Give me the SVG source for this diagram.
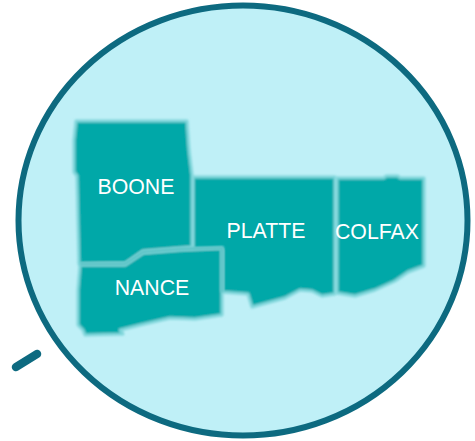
<svg xmlns="http://www.w3.org/2000/svg" width="475" height="441" viewBox="0 0 475 441">
<defs><filter id="soft" x="-5%" y="-5%" width="110%" height="110%"><feGaussianBlur stdDeviation="0.8"/></filter></defs>
<style>
.c{fill:#00a8a8;stroke:#7fd5da;stroke-width:3;stroke-linejoin:round;filter:url(#soft)}
.b{fill:none;stroke:#5fc5c7;stroke-width:3.500;filter:url(#soft)}
text{font-family:"Liberation Sans",Arial,sans-serif;font-size:21.300px;fill:#fff;text-anchor:middle}
</style>
<rect width="475" height="441" fill="#fff"/>
<ellipse id="circle" cx="243" cy="220.500" rx="224.500" ry="215" fill="#bff0f7" stroke="#0d6a80" stroke-width="6"/>
<g id="connectors"><line x1="16" y1="367" x2="37" y2="354" stroke="#0d6a80" stroke-width="8.500" stroke-linecap="round"/></g>
<g id="platte"><path class="c" d="M193 177H335V294L322 296L312 291L300 290L285 298L252 307L248 294L222 292V250H193Z"/><text x="266" y="238">PLATTE</text></g>
<g id="colfax"><path class="c" d="M337 178H384L386 176H398L400 178H424V266L408 272L395 281L375 290L355 296L337 293Z"/><path class="b" d="M336 178V293"/><text x="377" y="239">COLFAX</text></g>
<g id="boone"><path class="c" d="M76 121H187L189 150L192 175V247L143 251L126 263L79 264L77 176L74 172V140Z"/><path class="b" d="M193 175V247"/><text x="136" y="194">BOONE</text></g>
<g id="nance"><path class="c" d="M80 265H125L143 253L180 250L222 248V315L195 319L170 318L140 325L120 330L123 334L85 335L83 330L78 325V290Z"/><path class="b" d="M80 264H125L143 252L180 249L222 248V292"/><text x="152" y="295">NANCE</text></g>
</svg>
